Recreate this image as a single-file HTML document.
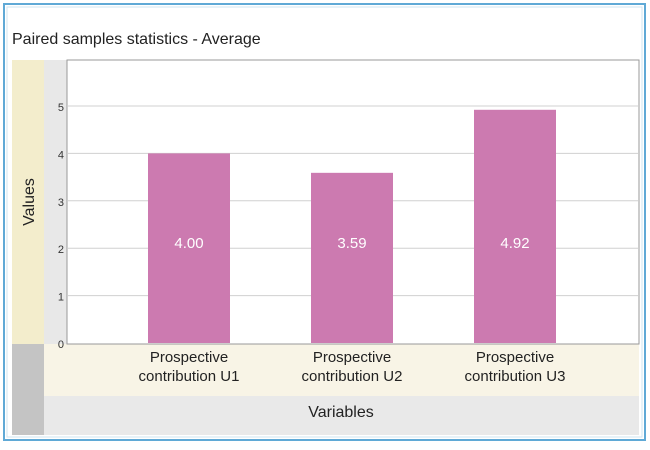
<!DOCTYPE html>
<html><head><meta charset="utf-8"><style>
body{margin:0;background:#fff;font-family:"Liberation Sans",sans-serif}
</style></head><body>
<svg id="c" width="650" height="445" xmlns="http://www.w3.org/2000/svg">
<rect x="4" y="4" width="641" height="436" fill="#fff" stroke="#5fa9d6" stroke-width="2"/>
<rect x="7" y="7" width="635" height="430" fill="none" stroke="#cfe4f2" stroke-width="1"/>
<text x="12" y="44" font-size="16" fill="#222">Paired samples statistics - Average</text>
<rect x="12" y="60" width="32" height="284" fill="#f3edcc"/>
<rect x="12" y="344" width="32" height="91" fill="#c4c4c4"/>
<rect x="44" y="60" width="23" height="284" fill="#e8e8e8"/>
<rect x="44" y="344" width="595" height="52" fill="#f8f4e6"/>
<rect x="44" y="396" width="595" height="39" fill="#e9e9e9"/>
<text x="0" y="0" transform="translate(34,202) rotate(-90)" text-anchor="middle" font-size="16" fill="#222">Values</text>
<text x="341" y="417" text-anchor="middle" font-size="16" fill="#222">Variables</text>
<rect x="67" y="60" width="572" height="284" fill="#fff" stroke="#999" stroke-width="1"/>
<g id="g"></g>
</svg>
<script>
const categories=["Prospective|contribution U1","Prospective|contribution U2","Prospective|contribution U3"];
const values=[4.00,3.59,4.92];
const labels=["4.00","3.59","4.92"];
const ticks=[0,1,2,3,4,5];
const y=v=>343-v*47.4;
const x=i=>189+163*i;
const g=document.getElementById('g');
const NS="http://www.w3.org/2000/svg";
function mk(t,a){const e=document.createElementNS(NS,t);for(const k in a)e.setAttribute(k,a[k]);g.appendChild(e);return e;}
ticks.forEach(t=>{
  if(t>0){const l=mk('line',{x1:68,x2:638,y1:y(t),y2:y(t),stroke:'#d0d0d0'});
  
  }
  const tx=mk('text',{x:64,y:y(t)+5,'text-anchor':'end','font-size':11,fill:'#333'});tx.textContent=t;
  
  
});
values.forEach((v,i)=>{
  const r=mk('rect',{x:x(i)-41,y:y(v),width:82,height:y(0)-y(v),fill:'#cc7ab0'});
  
  
  const t=mk('text',{x:x(i),y:248,'text-anchor':'middle','font-size':15,fill:'#fff'});t.textContent=labels[i];
  
  
  categories[i].split('|').forEach((s,j)=>{
    const c=mk('text',{x:x(i),y:362+j*19,'text-anchor':'middle','font-size':15,fill:'#222'});c.textContent=s;
    
    
  });
});
</script>
</body></html>
